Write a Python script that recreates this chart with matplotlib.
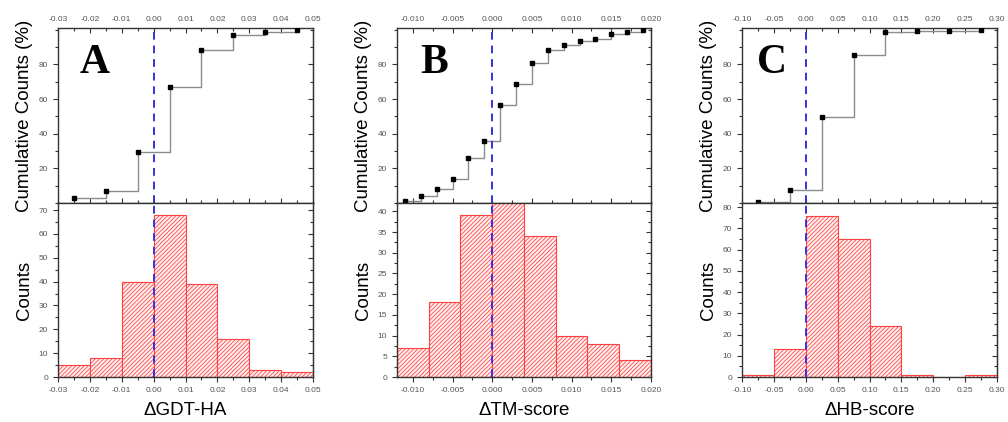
import matplotlib
matplotlib.use('Agg')
import matplotlib.pyplot as plt
from matplotlib.ticker import MultipleLocator, FormatStrFormatter, NullFormatter

plt.rcParams['font.family'] = ['Liberation Sans', 'DejaVu Sans']
plt.rcParams['hatch.linewidth'] = 0.55

# ---- data ----
# A: delta GDT-HA
a_edges = [-0.03, -0.02, -0.01, 0.00, 0.01, 0.02, 0.03, 0.04, 0.05]
a_counts = [5, 8, 40, 68, 39, 16, 3, 2]
a_cumx = [-0.025, -0.015, -0.005, 0.005, 0.015, 0.025, 0.035, 0.045]
a_cumy = [2.8, 7.2, 29.3, 66.9, 88.4, 97.2, 98.9, 100]

# B: delta TM-score
b_edges = [-0.012, -0.008, -0.004, 0.000, 0.004, 0.008, 0.012, 0.016, 0.020]
b_counts = [7, 18, 39, 42.5, 34, 10, 8, 4]
b_cumx = [-0.011, -0.009, -0.007, -0.005, -0.003, -0.001, 0.001, 0.003,
          0.005, 0.007, 0.009, 0.011, 0.013, 0.015, 0.017, 0.019]
b_cumy = [1.3, 4.0, 8.1, 14.0, 25.7, 35.9, 56.8, 68.5,
          80.7, 88.1, 91.4, 93.5, 94.8, 97.7, 98.7, 99.6]

# C: delta HB-score
c_edges = [-0.10, -0.05, 0.00, 0.05, 0.10, 0.15, 0.20, 0.25, 0.30]
c_counts = [1, 13, 76, 65, 24, 1, 0, 1]
c_cumx = [-0.075, -0.025, 0.025, 0.075, 0.125, 0.175, 0.225, 0.275]
c_cumy = [0.6, 7.7, 49.7, 85.6, 98.9, 99.4, 99.4, 100]

panels = [
    dict(letter='A', xlabel='\u0394GDT-HA', edges=a_edges, counts=a_counts,
         cumx=a_cumx, cumy=a_cumy, ymax=73, ystep=10, yminor=5,
         xmaj=0.01, xmin=0.005, fmt='%.2f', left=58, right=313, lx=0.085),
    dict(letter='B', xlabel='\u0394TM-score', edges=b_edges, counts=b_counts,
         cumx=b_cumx, cumy=b_cumy, ymax=42, ystep=5, yminor=2.5,
         xmaj=0.005, xmin=0.0025, fmt='%.3f', left=397, right=651, lx=0.09),
    dict(letter='C', xlabel='\u0394HB-score', edges=c_edges, counts=c_counts,
         cumx=c_cumx, cumy=c_cumy, ymax=82, ystep=10, yminor=5,
         xmaj=0.05, xmin=0.025, fmt='%.2f', left=742, right=997, lx=0.06),
]

W, H = 1008, 422
fig = plt.figure(figsize=(W / 100, H / 100), dpi=100)

spine_c = '#333333'
tick_c = '#555555'
red = '#ff4040'
blue = '#3434e0'


def style(ax):
    for s in ax.spines.values():
        s.set_color(spine_c)
        s.set_linewidth(1.0)
    ax.tick_params(which='both', colors=spine_c, labelcolor=tick_c, labelsize=6, width=0.8)
    ax.tick_params(which='major', length=3.5)
    ax.tick_params(which='minor', length=2)


for p in panels:
    x0 = p['left'] / W
    w = (p['right'] - p['left']) / W
    top_b = (H - 203) / H
    top_h = (203 - 28) / H
    bot_b = (H - 377) / H
    bot_h = (377 - 203) / H
    axt = fig.add_axes([x0, top_b, w, top_h])
    axb = fig.add_axes([x0, bot_b, w, bot_h])
    lo, hi = p['edges'][0], p['edges'][-1]

    # cumulative counts (top)
    axt.step(p['cumx'], p['cumy'], where='post', color='#8c8c8c', lw=1.0, zorder=2)
    axt.plot(p['cumx'], p['cumy'], 's', color='black', ms=3.5, zorder=3)
    axt.axvline(0, color=blue, lw=1.4, ls=(0, (4, 3)), zorder=4)
    axt.set_xlim(lo, hi)
    axt.set_ylim(0, 101)
    axt.yaxis.set_minor_locator(MultipleLocator(10))
    axt.yaxis.set_major_formatter(FormatStrFormatter('%d'))
    axt.set_yticks([20, 40, 60, 80])
    axt.xaxis.set_major_locator(MultipleLocator(p['xmaj']))
    axt.xaxis.set_minor_locator(MultipleLocator(p['xmin']))
    axt.xaxis.set_major_formatter(FormatStrFormatter(p['fmt']))
    axt.xaxis.tick_top()
    style(axt)
    axt.tick_params(axis='x', which='both', direction='in', top=True, bottom=True,
                    labeltop=True, labelbottom=False)
    axt.tick_params(axis='y', which='both', direction='out', left=True)
    axt.set_ylabel('Cumulative Counts (%)', fontsize=13.5, labelpad=4)
    axt.text(p['lx'], 0.8, p['letter'], transform=axt.transAxes, fontsize=30,
             fontweight='bold', family=['Liberation Serif', 'DejaVu Serif'],
             va='center', ha='left')

    # histogram (bottom)
    widths = [p['edges'][i + 1] - p['edges'][i] for i in range(len(p['counts']))]
    axb.bar(p['edges'][:-1], p['counts'], width=widths, align='edge',
            facecolor='#ffeeee', edgecolor=red, hatch='////////', lw=0.8, zorder=2)
    axb.axvline(0, color=blue, lw=1.4, ls=(0, (4, 3)), zorder=4)
    axb.set_xlim(lo, hi)
    axb.set_ylim(0, p['ymax'])
    axb.yaxis.set_major_locator(MultipleLocator(p['ystep']))
    axb.yaxis.set_minor_locator(MultipleLocator(p['yminor']))
    axb.yaxis.set_major_formatter(FormatStrFormatter('%d'))
    axb.xaxis.set_major_locator(MultipleLocator(p['xmaj']))
    axb.xaxis.set_minor_locator(MultipleLocator(p['xmin']))
    axb.xaxis.set_major_formatter(FormatStrFormatter(p['fmt']))
    style(axb)
    axb.tick_params(axis='x', which='both', direction='out', top=False)
    axb.tick_params(axis='y', which='both', direction='out', left=True)
    axb.set_ylabel('Counts', fontsize=13.5, labelpad=4)
    axb.set_xlabel(p['xlabel'], fontsize=13.5, labelpad=6)

    # inward ticks on the right side
    for ax in (axt, axb):
        ax2 = ax.secondary_yaxis('right')
        ax2.yaxis.set_major_locator(ax.yaxis.get_major_locator())
        ax2.yaxis.set_minor_locator(ax.yaxis.get_minor_locator())
        ax2.yaxis.set_major_formatter(NullFormatter())
        ax2.tick_params(which='both', direction='in', colors=spine_c, width=0.8)
        ax2.tick_params(which='major', length=3.5)
        ax2.tick_params(which='minor', length=2)
        ax2.spines['right'].set_color(spine_c)

fig.savefig('out.png', dpi=100)
